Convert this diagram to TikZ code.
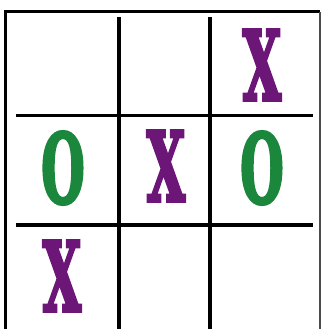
\documentclass[tikz,border=0pt]{standalone}
\usepackage{fontspec}
\setmainfont{DejaVu Serif}
\usepackage{graphicx}
\usetikzlibrary{positioning}
\definecolor{boardPurple}{RGB}{108,22,120}
\definecolor{boardGreen}{RGB}{26,135,60}
% narrow, heavy glyph (fill + stroke text render mode)
\newcommand{\narrowglyph}[1]{\scalebox{0.52}[1]{\special{pdf:literal direct 2 Tr 3 w}#1\special{pdf:literal direct 0 Tr 1 w}}}
\tikzset{
  gridline/.style={line width=3.5*0.03cm,black},
  cellX/.style={inner sep=0pt,text=boardPurple,font=\fontsize{82}{82}\selectfont\bfseries},
  cellO/.style={inner sep=0pt,text=boardGreen,font=\fontsize{82}{82}\selectfont\bfseries}
}
\begin{document}
\begin{tikzpicture}[x=0.03cm,y=-0.03cm]
        \useasboundingbox (0,0) rectangle (322,329);
        % Outer frame (no bottom edge)
        \draw[line width=3*0.03cm,black] (5.5,329)--(5.5,11.5)--(320,11.5);
        \draw[line width=1.5*0.03cm,black!70] (320,11.5)--(320,329);
        % Grid lines
        \draw[gridline] (119,17)--(119,329);
        \draw[gridline] (210,17)--(210,329);
        \draw[gridline] (16,115.5)--(313,115.5);
        \draw[gridline] (16,225)--(313,225);
        % Marks
        \node[cellX] (topright) at (262,65) {\narrowglyph{X}};
        \node[cellO] (midleft) at (63,168) {\narrowglyph{O}};
        \node[cellX] (center) at (166,166) {\narrowglyph{X}};
        \node[cellO] (midright) at (262,168) {\narrowglyph{O}};
        \node[cellX] (bottomleft) at (62,276) {\narrowglyph{X}};
      \end{tikzpicture}
\end{document}
